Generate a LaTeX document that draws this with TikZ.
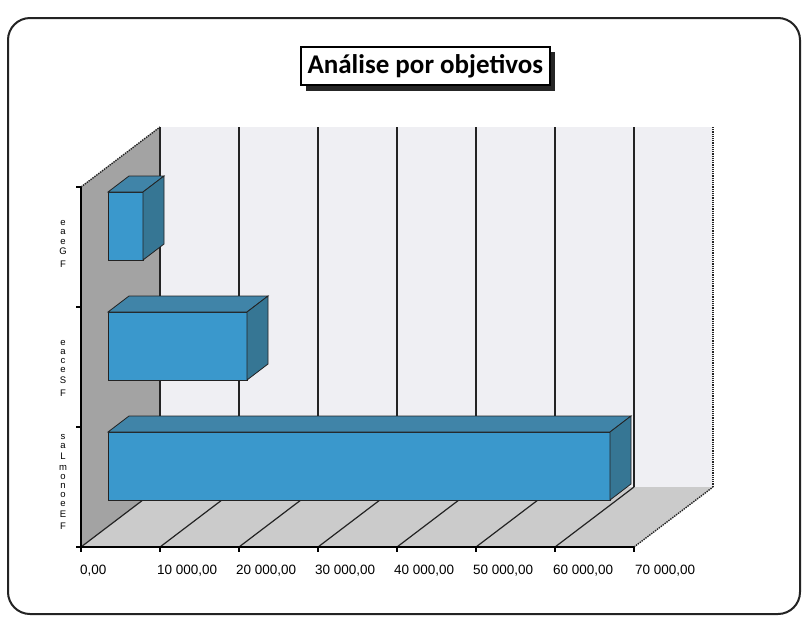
\documentclass[tikz,border=0pt]{standalone}
\usepackage{fontspec}
\setmainfont{Liberation Sans}
\newfontfamily\titlefont{Carlito}
\definecolor{wallL}{RGB}{163,163,163}
\definecolor{floorc}{RGB}{203,203,203}
\definecolor{backc}{RGB}{239,239,243}
\definecolor{barF}{RGB}{58,152,204}
\definecolor{barT}{RGB}{64,132,168}
\definecolor{barS}{RGB}{54,118,148}
\definecolor{edgec}{RGB}{35,35,35}
\newcommand\barbox[2]{%
  \filldraw[barF,draw=edgec,line width=0.8] (108,{#1-34}) rectangle ({108+#2},{#1+34});
  \filldraw[barT,draw=edgec,line width=0.8] (108,{#1-34}) -- ({108+#2},{#1-34}) -- ({129+#2},{#1-50}) -- (129,{#1-50}) -- cycle;
  \filldraw[barS,draw=edgec,line width=0.8] ({108+#2},{#1-34}) -- ({129+#2},{#1-50}) -- ({129+#2},{#1+18}) -- ({108+#2},{#1+34}) -- cycle;
}
\begin{document}
\begin{tikzpicture}[x=1pt,y=-1pt,
  ticklab/.style={anchor=base west,inner sep=0pt,font=\fontsize{13.5}{15}\selectfont},
  catlab/.style={inner sep=0pt,font=\fontsize{9.5}{10}\selectfont,align=center}]
\useasboundingbox (0,0) rectangle (805,622);
\fill[white] (0,0) rectangle (805,622);
% outer frame
\draw[line width=2,rounded corners=22,edgec] (8,18) rectangle (800,614);
% title
\fill[black!85] (306,52) rectangle (555,91);
\node[draw,line width=1.6,fill=white,minimum width=249,minimum height=38,inner sep=0pt,anchor=north west] (title) at (300,46) {};
\node[font=\titlefont\bfseries\fontsize{27}{30}\selectfont,inner sep=0pt] (titletext) at (title.center) {Análise por objetivos};
% back wall
\fill[backc] (160,127) rectangle (713,487);
\foreach \k in {1,...,6}{\draw[line width=1.6,edgec] ({160+79*\k},127) -- ({160+79*\k},487);}
\draw[line width=1.2,edgec,densely dotted] (713,127) -- (713,487);
% left wall
\fill[wallL] (81,547) -- (81,187) -- (160,127) -- (160,487) -- cycle;
\draw[line width=1.4,edgec] (160,127) -- (160,487);
\draw[line width=1.4,edgec,densely dotted] (81,187) -- (160,127);
% floor
\fill[floorc] (81,547) -- (634,547) -- (713,487) -- (160,487) -- cycle;
\foreach \k in {0,...,6}{\draw[line width=1.2,edgec] ({81+79*\k},547) -- ({160+79*\k},487);}
\draw[line width=1.4,edgec,densely dotted] (634,547) -- (713,487);
% axes
\draw[line width=1.6,black] (81,187) -- (81,547) -- (634,547);
\foreach \y in {187,307,427,547}{\draw[line width=1.4] (76,\y) -- (81,\y);}
\foreach \k in {0,...,7}{\draw[line width=1.4] ({81+79*\k},547) -- ({81+79*\k},552);}
% bars
\barbox{226}{35}
\barbox{346}{139}
\barbox{466}{502}
% tick labels
\node[ticklab] (l0) at (80,574) {0,00};
\node[ticklab] (l1) at (157,574) {10 000,00};
\node[ticklab] (l2) at (236,574) {20 000,00};
\node[ticklab] (l3) at (315,574) {30 000,00};
\node[ticklab] (l4) at (394,574) {40 000,00};
\node[ticklab] (l5) at (473,574) {50 000,00};
\node[ticklab] (l6) at (553,574) {60 000,00};
\node[ticklab] (l7) at (635,574) {70 000,00};
% category labels
\node[catlab] (c1) at (63,244) {\shortstack{e\\[1pt]a\\[1pt]e\\[1pt]G\\[3pt]F}};
\node[catlab] (c2) at (63,368) {\shortstack{e\\[1pt]a\\[1pt]c\\[1pt]e\\[1pt]S\\[3pt]F}};
\node[catlab] (c3) at (63,482) {\shortstack{s\\[1pt]a\\[1pt]L\\[3pt]m\\[1pt]o\\[1pt]n\\[1pt]o\\[1pt]e\\[1pt]E\\[3pt]F}};
\end{tikzpicture}
\end{document}
